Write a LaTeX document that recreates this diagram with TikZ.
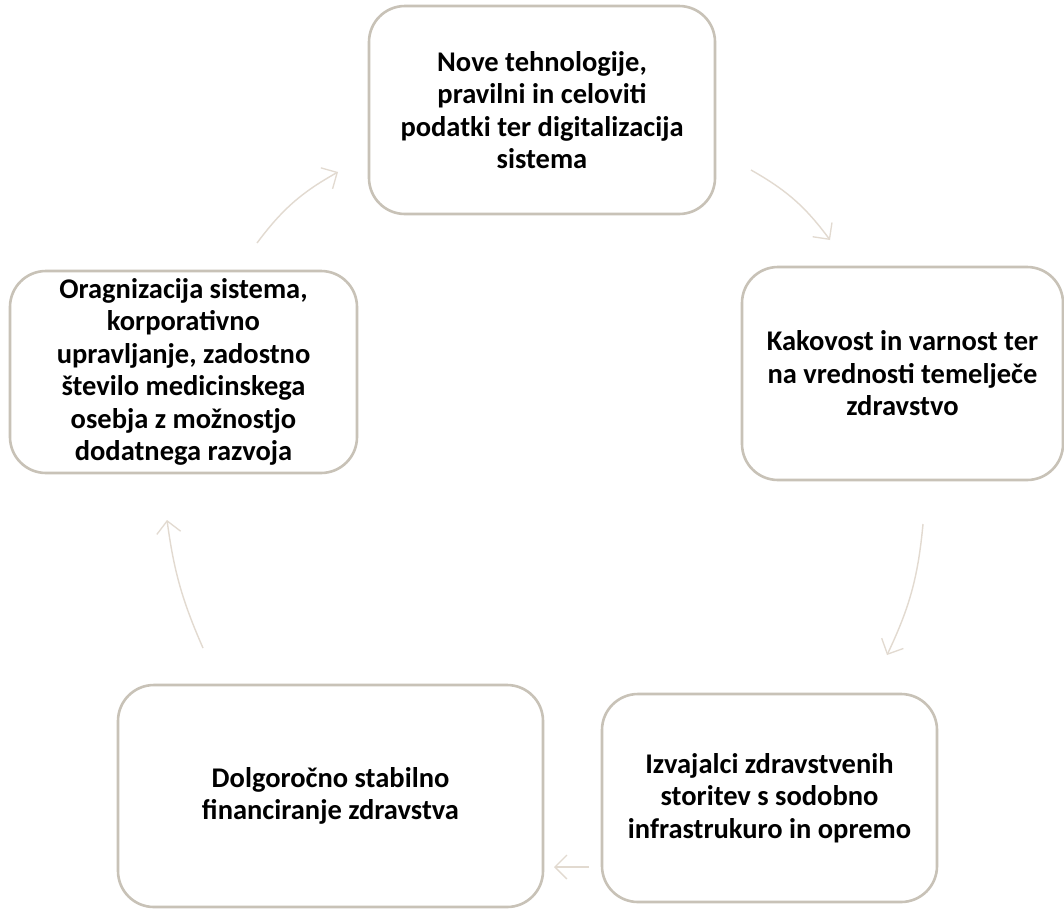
\documentclass[tikz,border=0pt]{standalone}
\usepackage{fontspec}
\setmainfont{Carlito}
\usetikzlibrary{arrows.meta}
\definecolor{boxline}{HTML}{C8C2B7}
\definecolor{arrline}{HTML}{E2DAD0}
\tikzset{
  box/.style={draw=boxline, line width=2.6pt, rounded corners=36pt, fill=white,
    align=center, font=\fontsize{28.5}{32.5}\selectfont\bfseries, inner sep=0pt},
  cyc/.style={draw=arrline, line width=1.4pt, -{Straight Barb[length=12pt,width=24pt,line width=1.3pt]}}
}
\begin{document}
\begin{tikzpicture}[x=1pt,y=-1pt]
\useasboundingbox[fill=white] (0,0) rectangle (1064,908);
\node[box, minimum width=346pt, minimum height=208pt] (top) at (542,110)
  {Nove tehnologije,\\pravilni in celoviti\\podatki ter digitalizacija\\sistema};
\node[box, minimum width=321pt, minimum height=213pt] (right) at (902.5,373.5)
  {Kakovost in varnost ter\\na vrednosti temelječe\\zdravstvo};
\node[box, minimum width=335pt, minimum height=208pt] (botr) at (769.5,798)
  {Izvajalci zdravstvenih\\storitev s sodobno\\infrastrukuro in opremo};
\node[box, minimum width=425pt, minimum height=222pt] (botl) at (330.5,796)
  {Dolgoročno stabilno\\financiranje zdravstva};
\node[box, minimum width=347pt, minimum height=202pt] (left) at (183.5,372)
  {Oragnizacija sistema,\\korporativno\\upravljanje, zadostno\\število medicinskega\\osebja z možnostjo\\dodatnega razvoja};
\coordinate (a1s) at (257,243); \coordinate (a1e) at (338,172);
\coordinate (a2s) at (751,170); \coordinate (a2e) at (830,240);
\coordinate (a3s) at (923,524); \coordinate (a3e) at (887,655);
\coordinate (a4s) at (589,867); \coordinate (a4e) at (554,867);
\coordinate (a5s) at (203,648); \coordinate (a5e) at (167,520);
\draw[cyc] (a1s) to[bend left=12] (a1e);
\draw[cyc] (a2s) to[bend left=12] (a2e);
\draw[cyc] (a3s) to[bend left=10] (a3e);
\draw[cyc] (a4s) -- (a4e);
\draw[cyc] (a5s) to[bend left=8] (a5e);
\end{tikzpicture}
\end{document}
